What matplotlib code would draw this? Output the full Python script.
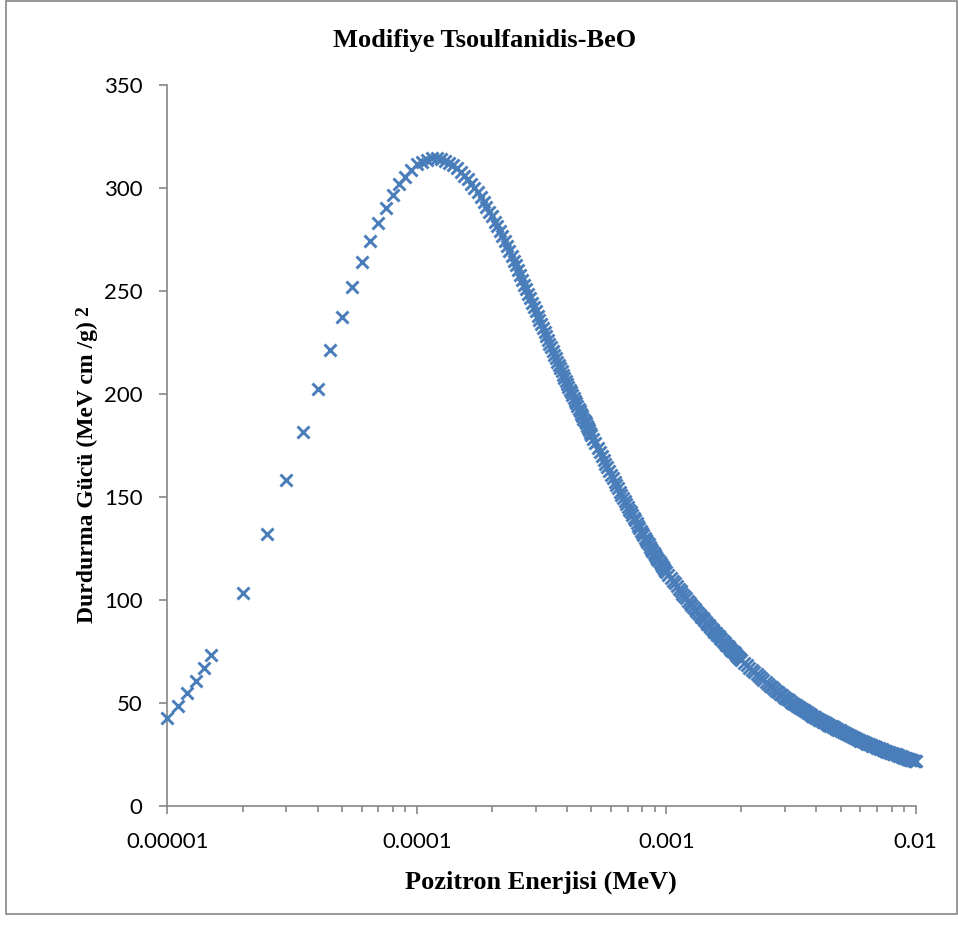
import numpy as np
import matplotlib.pyplot as plt
from matplotlib.patches import Rectangle
from matplotlib.ticker import FixedLocator, FixedFormatter, LogLocator, NullFormatter

# Pozitron enerjisi (MeV) - low energy points, written out
e_low = [1.0e-5, 1.1e-5, 1.2e-5, 1.3e-5, 1.4e-5, 1.5e-5,
         2.0e-5, 2.5e-5, 3.0e-5, 3.5e-5, 4.0e-5, 4.5e-5, 5.0e-5,
         5.5e-5, 6.0e-5, 6.5e-5, 7.0e-5, 7.5e-5, 8.0e-5, 8.5e-5,
         9.0e-5, 9.5e-5, 1.0e-4]
s_low = [42.7, 48.5, 54.6, 60.7, 66.8, 73.0,
         103.1, 132.0, 158.0, 181.4, 202.3, 221.2, 237.3,
         251.9, 263.8, 274.1, 283.0, 290.3, 296.5, 301.6,
         305.3, 308.6, 311.3]

# energy grids of the dense part (units of 1e-5 MeV)
e_a = np.arange(10.5, 50.01, 0.5) * 1e-5
e_b = np.arange(51, 100.01, 1) * 1e-5
e_c = np.arange(102, 200.01, 2) * 1e-5
e_d = np.arange(205, 500.01, 5) * 1e-5
e_e = np.arange(510, 1000.01, 10) * 1e-5

# Durdurma gucu (MeV cm2/g)
s_a = [312.4, 313.5, 314.2, 314.3, 313.9, 312.9, 311.9, 311.0, 309.4, 307.6,
       305.9, 304.1, 301.9, 299.8, 297.7, 295.4, 293.0, 290.6, 288.3, 286.1,
       283.6, 281.2, 278.8, 276.5, 274.2, 271.8, 269.3, 267.0, 264.6, 262.3,
       260.0, 257.6, 255.3, 253.0, 250.8, 248.6, 246.4, 244.2, 242.1, 240.0,
       237.9, 235.8, 233.8, 231.8, 229.9, 228.0, 226.2, 224.3, 222.5, 220.7,
       218.9, 217.3, 215.6, 214.0, 212.4, 210.8, 209.2, 207.7, 206.1, 204.7,
       203.3, 201.9, 200.6, 199.2, 197.9, 196.6, 195.3, 194.0, 192.7, 191.5,
       190.3, 189.1, 187.9, 186.8, 185.6, 184.5, 183.4, 182.3, 181.1, 180.1]
s_b = [177.9, 175.9, 173.8, 171.8, 169.9, 167.9, 166.1, 164.3, 162.5, 160.7,
       159.0, 157.3, 155.7, 154.1, 152.5, 151.0, 149.5, 148.0, 146.6, 145.1,
       143.7, 142.4, 141.1, 139.8, 138.5, 137.2, 136.0, 134.7, 133.5, 132.4,
       131.2, 130.1, 129.0, 127.9, 126.9, 125.8, 124.8, 123.7, 122.7, 121.8,
       120.9, 120.0, 119.2, 118.3, 117.4, 116.6, 115.8, 114.9, 114.1, 113.3]
s_c = [111.9, 110.5, 109.2, 107.9, 106.6, 105.3, 104.1, 103.0, 101.8, 100.7,
       99.6, 98.5, 97.4, 96.5, 95.5, 94.5, 93.6, 92.7, 91.8, 90.9,
       90.0, 89.2, 88.3, 87.5, 86.8, 86.0, 85.2, 84.4, 83.7, 83.0,
       82.3, 81.6, 80.9, 80.2, 79.5, 78.9, 78.2, 77.6, 77.0, 76.3,
       75.7, 75.2, 74.6, 74.0, 73.4, 72.9, 72.3, 71.8, 71.2, 70.7]
s_d = [69.4, 68.2, 67.0, 65.9, 64.8, 63.8, 62.8, 61.8, 60.8, 59.9,
       59.1, 58.2, 57.4, 56.6, 55.8, 55.1, 54.4, 53.7, 53.0, 52.4,
       51.7, 51.1, 50.5, 49.9, 49.3, 48.8, 48.3, 47.8, 47.3, 46.8,
       46.3, 45.8, 45.4, 45.0, 44.6, 44.2, 43.7, 43.3, 42.9, 42.6,
       42.2, 41.8, 41.5, 41.1, 40.8, 40.4, 40.1, 39.7, 39.4, 39.1,
       38.8, 38.5, 38.2, 38.0, 37.7, 37.4, 37.2, 36.9, 36.6, 36.3]
s_e = [35.8, 35.3, 34.7, 34.2, 33.7, 33.2, 32.8, 32.4, 32.0, 31.6,
       31.2, 30.8, 30.4, 30.1, 29.8, 29.5, 29.1, 28.8, 28.5, 28.2,
       27.9, 27.7, 27.4, 27.1, 26.8, 26.6, 26.3, 26.1, 25.8, 25.6,
       25.3, 25.1, 24.9, 24.6, 24.4, 24.2, 24.0, 23.7, 23.5, 23.3,
       23.1, 22.9, 22.8, 22.6, 22.4, 22.2, 22.0, 21.9, 21.7, 21.5]

x_ticks = [1e-5, 1e-4, 1e-3, 1e-2]
x_labels = ["0.00001", "0.0001", "0.001", "0.01"]
y_ticks = [0, 50, 100, 150, 200, 250, 300, 350]

energy = np.concatenate([e_low, e_a, e_b, e_c, e_d, e_e])
stopping = np.concatenate([s_low, s_a, s_b, s_c, s_d, s_e])

grey = "#868686"
blue = "#4A7EBB"
tick_font = "Lato"
serif = "Liberation Serif"

fig = plt.figure(figsize=(9.58, 9.26), dpi=100)
ax = fig.add_axes([0.1748, 0.1299, 0.7811, 0.7786])

ax.plot(energy, stopping, linestyle="none", marker="x", ms=8.5, mew=2.1,
        color=blue, clip_on=False, zorder=3)

ax.set_xscale("log")
ax.set_xlim(1e-5, 1e-2)
ax.set_ylim(0, 350)
ax.xaxis.set_major_locator(FixedLocator(x_ticks))
ax.xaxis.set_major_formatter(FixedFormatter(x_labels))
ax.xaxis.set_minor_locator(LogLocator(base=10, subs=np.arange(2, 10)))
ax.xaxis.set_minor_formatter(NullFormatter())
ax.set_yticks(y_ticks)

for side in ["top", "right"]:
    ax.spines[side].set_visible(False)
for side in ["left", "bottom"]:
    ax.spines[side].set_color(grey)
    ax.spines[side].set_linewidth(1.2)

ax.tick_params(which="major", direction="out", length=6, width=1.2,
               color=grey, labelsize=16)
ax.tick_params(axis="x", which="major", pad=13)
ax.tick_params(axis="y", which="major", pad=12)
ax.tick_params(which="minor", direction="out", length=4, width=1.2,
               color=grey)
for lab in ax.get_xticklabels() + ax.get_yticklabels():
    lab.set_fontfamily(tick_font)

fig.text(0.506, 0.9568, "Modifiye Tsoulfanidis-BeO", ha="center",
         va="center", fontsize=19, fontweight="bold", fontfamily=serif)
fig.text(0.565, 0.0475, "Pozitron Enerjisi (MeV)", ha="center",
         va="center", fontsize=19, fontweight="bold", fontfamily=serif)
fig.text(0.0908, 0.49, "Durdurma Gücü (MeV cm /g)", ha="center",
         va="center", rotation=90, fontsize=17, fontweight="bold",
         fontfamily=serif)
# superscript of cm2, sitting on its own above the label
fig.text(0.0875, 0.6645, "2", ha="center", va="center", rotation=90,
         fontsize=14, fontweight="bold", fontfamily=serif)

# outer frame of the chart
fig.add_artist(Rectangle((6 / 958, 1 - 914 / 926), 951 / 958, 913 / 926,
                         transform=fig.transFigure, fill=False,
                         edgecolor=grey, linewidth=1.2))

fig.savefig("out.png", dpi=100)
